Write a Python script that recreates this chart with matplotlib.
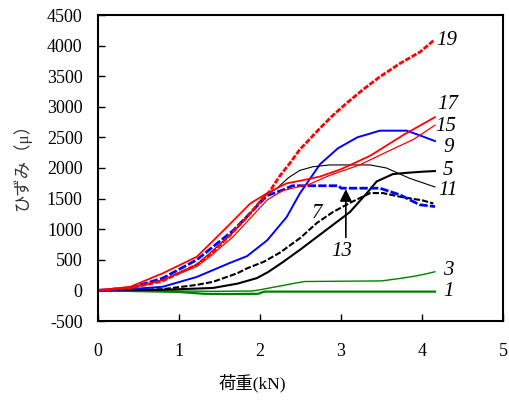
import matplotlib
matplotlib.use('Agg')
import matplotlib.pyplot as plt

plt.rcParams['font.family'] = ['Liberation Serif', 'Noto Sans CJK JP', 'DejaVu Sans']
plt.rcParams['axes.unicode_minus'] = False

# 荷重(kN) と ひずみ(μ) -- 図から読み取った値
x1 = [0, 0.8, 1.0, 1.3, 1.6, 1.98, 2.05, 3.0, 4.16]
y1 = [0, -20, -25, -55, -60, -55, -20, -20, -20]

x3 = [0, 0.5, 1.0, 1.5, 1.9, 2.0, 2.2, 2.4, 2.55, 3.0, 3.5, 3.7, 3.9, 4.05, 4.16]
y3 = [0, -5, -10, -15, -10, 10, 60, 110, 145, 150, 155, 190, 230, 270, 305]

x5 = [0, 0.8, 1.22, 1.42, 1.72, 1.96, 2.1, 2.28, 2.5, 2.7, 2.9, 3.11, 3.32, 3.44, 3.64, 3.8, 4.01, 4.16]
y5 = [0, 10, 30, 40, 110, 200, 300, 460, 670, 870, 1070, 1280, 1590, 1780, 1900, 1920, 1940, 1950]

x7 = [0, 0.8, 1.22, 1.42, 1.72, 1.84, 2.05, 2.25, 2.5, 2.7, 2.9, 3.11, 3.36, 3.52, 3.73, 4.01, 4.14]
y7 = [0, 20, 90, 140, 280, 360, 470, 620, 860, 1100, 1280, 1430, 1590, 1590, 1530, 1470, 1420]

x9 = [0, 0.4, 0.8, 1.22, 1.63, 1.84, 2.09, 2.33, 2.49, 2.74, 2.96, 3.2, 3.48, 3.81, 3.98, 4.16]
y9 = [0, 20, 60, 220, 450, 560, 820, 1200, 1580, 2060, 2320, 2500, 2610, 2610, 2530, 2440]

x11 = [0, 0.4, 0.8, 1.22, 1.63, 1.85, 2.04, 2.21, 2.35, 2.49, 2.65, 2.86, 3.1, 3.36, 3.56, 3.85, 4.16]
y11 = [0, 40, 170, 420, 900, 1200, 1530, 1670, 1840, 1960, 2020, 2050, 2050, 2050, 2000, 1830, 1690]

x13 = [0, 0.4, 0.8, 1.22, 1.67, 2.09, 2.28, 2.4, 2.97, 3.0, 3.48, 3.73, 3.97, 4.16]
y13 = [0, 40, 200, 500, 980, 1550, 1640, 1710, 1710, 1670, 1670, 1560, 1400, 1370]

x15 = [0, 0.4, 0.8, 1.22, 1.38, 1.67, 1.88, 2.09, 2.28, 2.62, 2.86, 3.23, 3.56, 3.9, 4.16]
y15 = [0, 40, 170, 390, 550, 880, 1180, 1480, 1630, 1740, 1880, 2050, 2260, 2470, 2700]

x17 = [0, 0.4, 0.8, 1.22, 1.55, 1.88, 2.09, 2.33, 2.49, 2.74, 3.0, 3.36, 3.77, 4.16]
y17 = [0, 60, 280, 550, 980, 1420, 1590, 1750, 1790, 1860, 1980, 2200, 2540, 2830]

x19 = [0, 0.4, 0.79, 1.22, 1.41, 1.63, 1.84, 2.02, 2.12, 2.25, 2.37, 2.49, 2.62, 2.74, 2.9, 3.07, 3.27, 3.48, 3.73, 3.98, 4.14]
y19 = [0, 40, 150, 420, 620, 900, 1200, 1480, 1620, 1880, 2080, 2300, 2480, 2650, 2860, 3060, 3280, 3490, 3710, 3900, 4080]

# 曲線番号ラベル
label_text = ['19', '17', '15', '9', '5', '11', '3', '1', '7', '13']
label_x = [4.17, 4.19, 4.16, 4.26, 4.26, 4.2, 4.26, 4.26, 2.71, 3.01]
label_y = [4090, 3030, 2670, 2330, 1960, 1640, 320, -25, 1260, 630]

fig = plt.figure(figsize=(5.1, 4.01), dpi=100)
ax = fig.add_axes([98 / 510, 1 - 321 / 401, 405 / 510, 306 / 401])

ax.plot(x1, y1, color='green', lw=1.6)
ax.plot(x3, y3, color='green', lw=1.0)
ax.plot(x5, y5, color='black', lw=1.5)
ax.plot(x7, y7, color='black', lw=1.5, dashes=(3, 1))
ax.plot(x9, y9, color='blue', lw=1.4)
ax.plot(x11, y11, color='black', lw=0.8)
ax.plot(x13, y13, color='blue', lw=2.0, dashes=(3, 0.8))
ax.plot(x15, y15, color='red', lw=0.9)
ax.plot(x17, y17, color='red', lw=1.3)
ax.plot(x19, y19, color='red', lw=2.0, dashes=(2, 0.6))

# 13 の矢印
ax.annotate('', xy=(3.06, 1700), xytext=(3.06, 820),
            arrowprops=dict(arrowstyle='-|>', color='black', lw=1.2, mutation_scale=18))

for t, lx, ly in zip(label_text, label_x, label_y):
    ha = 'center' if t in ('7', '13') else 'left'
    ax.text(lx, ly, t, fontsize=15, style='italic', ha=ha, va='center',
            family=['Liberation Serif'])

ax.set_xlim(0, 5)
ax.set_ylim(-500, 4500)
ax.set_xticks(range(0, 6))
ax.set_yticks(range(-500, 4501, 500))
ax.tick_params(direction='in', length=5, width=1, labelsize=13)
ax.tick_params(axis='x', pad=16)
ax.tick_params(axis='y', pad=11)
for s in ax.spines.values():
    s.set_linewidth(1.5)

fig.text(219 / 510, 1 - 383 / 401, '荷重(kN)', fontsize=12.5, ha='left', va='center')
fig.text(22 / 510, 1 - 163 / 401, 'ひずみ（μ）', fontsize=12.5, rotation=90,
         ha='center', va='center', color='#333333')

fig.savefig('out.png', dpi=100)
